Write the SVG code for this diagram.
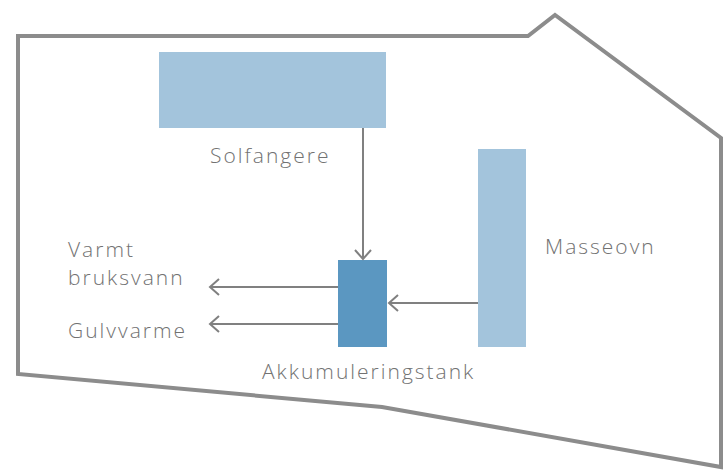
<svg xmlns="http://www.w3.org/2000/svg" width="723" height="472" viewBox="0 0 723 472">
<style>
.lbl{font-family:"Open Sans","Liberation Sans",sans-serif;font-size:21px;font-weight:300;letter-spacing:2px;fill:#727272;}
.box{fill:#a3c4dc;}
.conn{stroke:#808080;stroke-width:2;fill:none;}
</style>
<defs>
<marker id="arr" markerWidth="14" markerHeight="18" refX="11" refY="9" orient="auto" markerUnits="userSpaceOnUse">
<path d="M2,1 L11,9 L2,17" fill="none" stroke="#808080" stroke-width="2"/>
</marker>
</defs>
<rect width="723" height="472" fill="#ffffff"/>
<polygon id="house" points="18,36 528,36 555,15 721,138 721,467 382,407 18,374" fill="none" stroke="#8c8c8c" stroke-width="4" stroke-linejoin="miter"/>
<g id="solfangere">
<rect class="box" x="159" y="52" width="227" height="76"/>
<text class="lbl" x="210" y="163">Solfangere</text>
</g>
<g id="masseovn">
<rect class="box" x="478" y="149" width="48" height="198"/>
<text class="lbl" x="545" y="254">Masseovn</text>
</g>
<g id="tank">
<rect x="338" y="260" width="49" height="87" fill="#5b97c1"/>
<text class="lbl" x="262" y="379">Akkumuleringstank</text>
</g>
<g id="varmt">
<text class="lbl" x="68" y="257">Varmt</text>
<text class="lbl" x="68" y="285">bruksvann</text>
</g>
<g id="gulvvarme">
<text class="lbl" x="68" y="338">Gulvvarme</text>
</g>
<g id="connectors">
<line class="conn" x1="363" y1="128" x2="363" y2="259" marker-end="url(#arr)"/>
<line class="conn" x1="478" y1="303" x2="389" y2="303" marker-end="url(#arr)"/>
<line class="conn" x1="338" y1="287" x2="210" y2="287" marker-end="url(#arr)"/>
<line class="conn" x1="338" y1="324" x2="210" y2="324" marker-end="url(#arr)"/>
</g>
</svg>
